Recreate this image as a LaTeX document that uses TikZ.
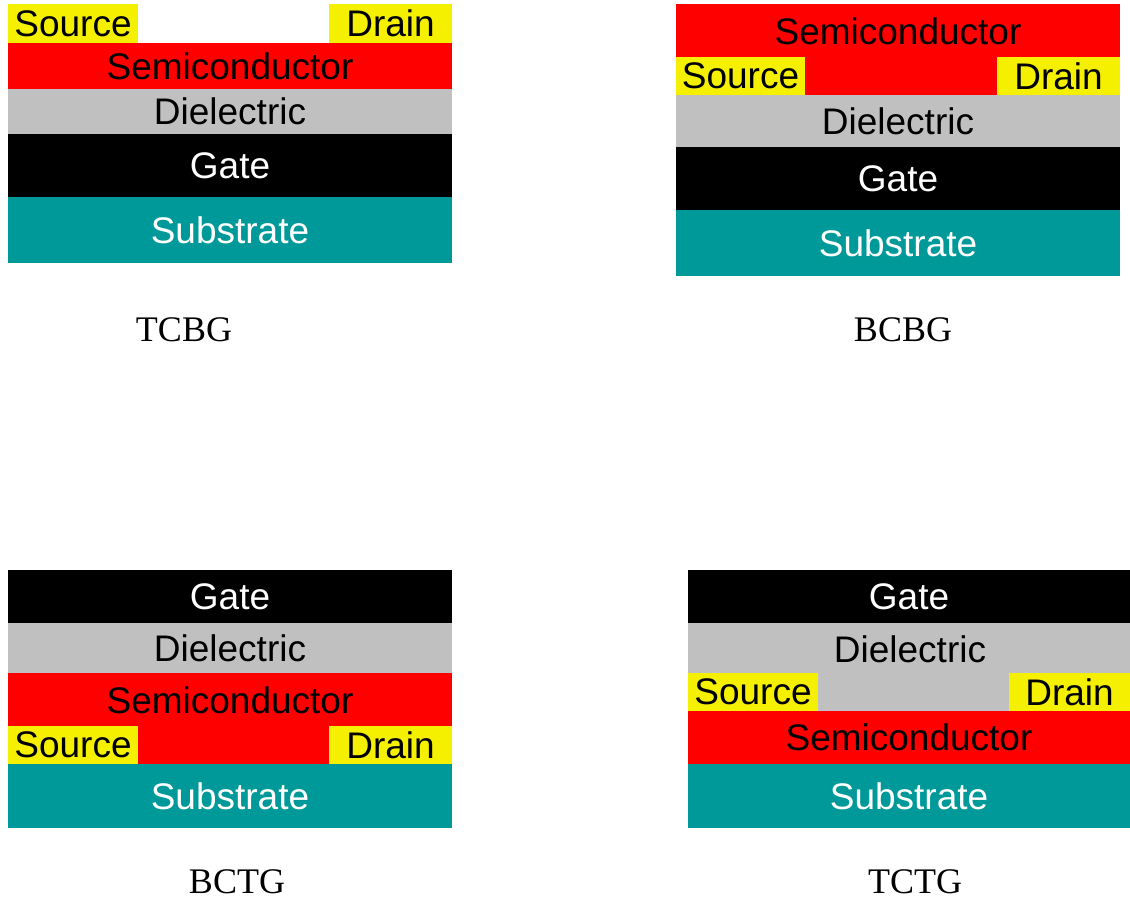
\documentclass[tikz,border=0pt]{standalone}
\usepackage{fontspec}
\setmainfont{Liberation Serif}
\newfontfamily\layerfont{Liberation Sans}
\definecolor{semired}{HTML}{FF0000}
\definecolor{contyellow}{HTML}{F5F000}
\definecolor{dielgray}{HTML}{C0C0C0}
\definecolor{subteal}{HTML}{009999}
\tikzset{
  lyr/.style={draw=none, inner sep=0pt, outer sep=0pt, font=\layerfont\fontsize{37}{37}\selectfont},
  caption/.style={inner sep=0pt, font=\fontsize{36}{36}\selectfont, text=black}
}
% \lyr{name}{x1}{y1}{x2}{y2}{fill}{textcolor}{text}
\newcommand{\lyr}[8]{%
  \node[lyr, fill=#6, text=#7, minimum width={(#4)-(#2)}, minimum height={(#5)-(#3)}]
    (#1) at ({((#2)+(#4))/2},{((#3)+(#5))/2}) {#8};}
\begin{document}
\begin{tikzpicture}[x=1pt,y=-1pt]
\useasboundingbox[fill=white] (0,0) rectangle (1130,900);
% ---------- TCBG ----------
\lyr{a-src}{8}{4}{138}{43}{contyellow}{black}{Source}
\lyr{a-drn}{329}{4}{452}{43}{contyellow}{black}{Drain}
\lyr{a-semi}{8}{43}{452}{89}{semired}{black}{Semiconductor}
\lyr{a-diel}{8}{89}{452}{134}{dielgray}{black}{Dielectric}
\lyr{a-gate}{8}{134}{452}{197}{black}{white}{Gate}
\lyr{a-sub}{8}{197}{452}{263}{subteal}{white}{Substrate}
\node[caption] (a-cap) at (184,330) {TCBG};
% ---------- BCBG ----------
\lyr{b-semi}{676}{4}{1120}{95}{semired}{black}{}
\node[lyr, text=black] (b-semitext) at (898,31) {Semiconductor};
\lyr{b-src}{676}{57}{805}{95}{contyellow}{black}{Source}
\lyr{b-drn}{997}{57}{1120}{95}{contyellow}{black}{Drain}
\lyr{b-diel}{676}{95}{1120}{147}{dielgray}{black}{Dielectric}
\lyr{b-gate}{676}{147}{1120}{210}{black}{white}{Gate}
\lyr{b-sub}{676}{210}{1120}{276}{subteal}{white}{Substrate}
\node[caption] (b-cap) at (903,330) {BCBG};
% ---------- BCTG ----------
\lyr{c-gate}{8}{570}{452}{623}{black}{white}{Gate}
\lyr{c-diel}{8}{623}{452}{673}{dielgray}{black}{Dielectric}
\lyr{c-semi}{8}{673}{452}{764}{semired}{black}{}
\node[lyr, text=black] (c-semitext) at (230,700) {Semiconductor};
\lyr{c-src}{8}{726}{138}{764}{contyellow}{black}{Source}
\lyr{c-drn}{329}{726}{452}{764}{contyellow}{black}{Drain}
\lyr{c-sub}{8}{764}{452}{828}{subteal}{white}{Substrate}
\node[caption] (c-cap) at (237,882) {BCTG};
% ---------- TCTG ----------
\lyr{d-gate}{688}{570}{1130}{623}{black}{white}{Gate}
\lyr{d-diel}{688}{623}{1130}{711}{dielgray}{black}{}
\node[lyr, text=black] (d-dieltext) at (910,649) {Dielectric};
\lyr{d-src}{688}{673}{818}{711}{contyellow}{black}{Source}
\lyr{d-drn}{1009}{673}{1130}{711}{contyellow}{black}{Drain}
\lyr{d-semi}{688}{711}{1130}{764}{semired}{black}{Semiconductor}
\lyr{d-sub}{688}{764}{1130}{828}{subteal}{white}{Substrate}
\node[caption] (d-cap) at (915,882) {TCTG};
\end{tikzpicture}
\end{document}
